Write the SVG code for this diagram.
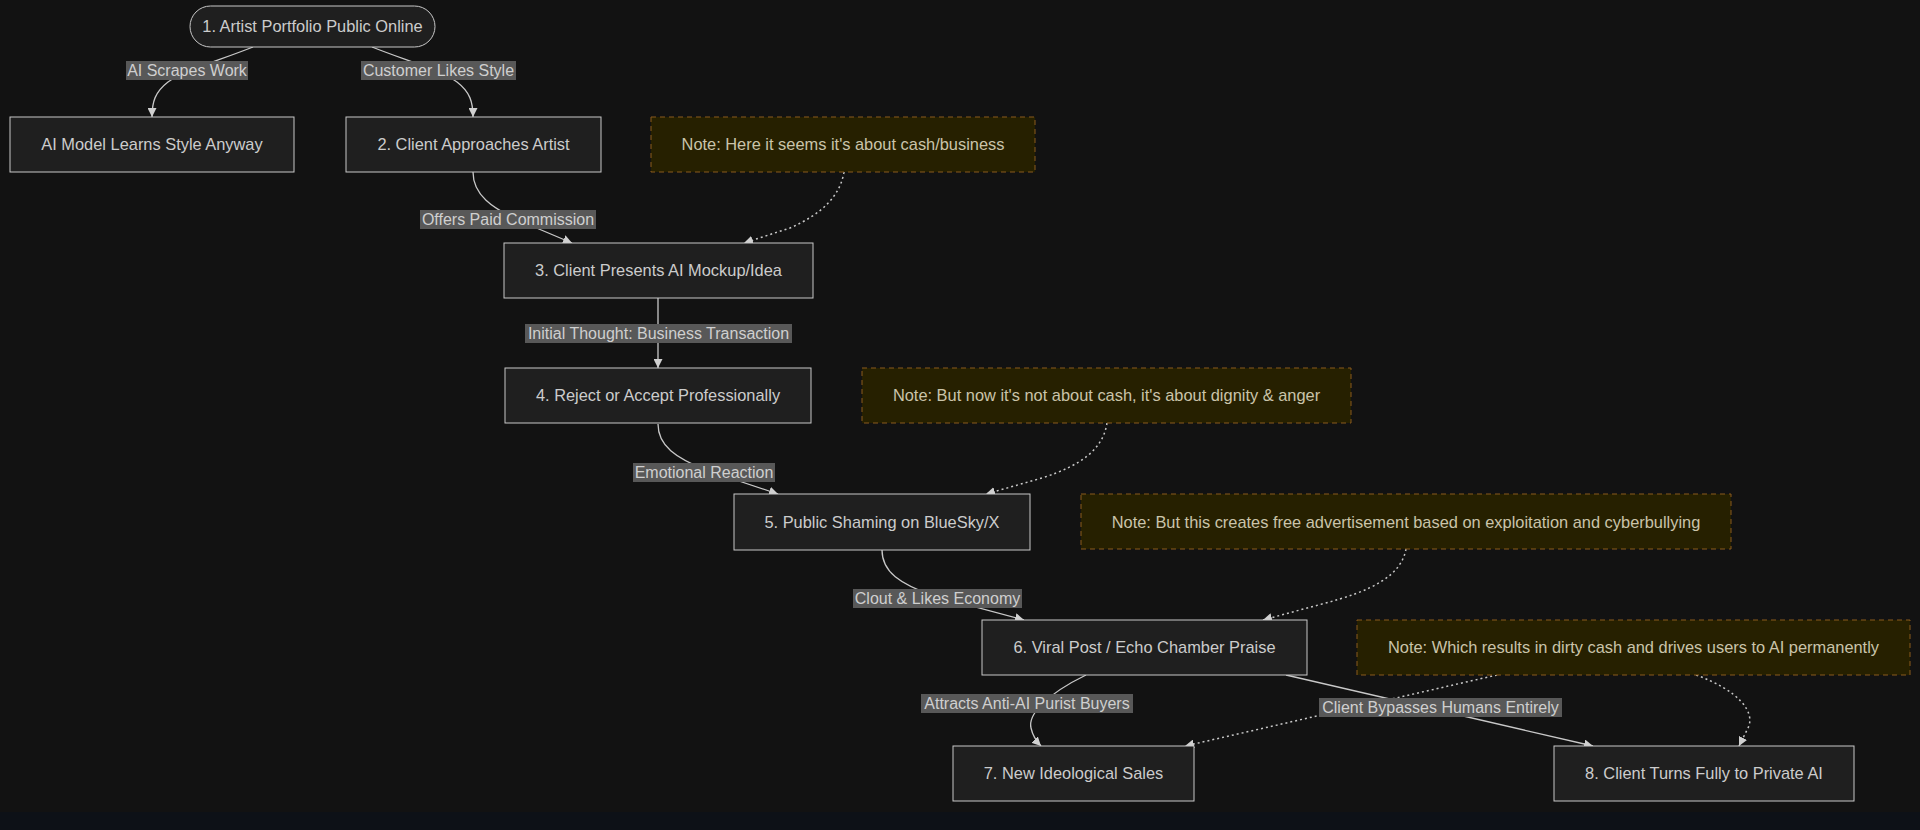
<svg xmlns="http://www.w3.org/2000/svg" width="1920" height="830" viewBox="0 0 1920 830">
<defs>
<marker id="arr" viewBox="0 0 10 10" refX="10" refY="5" markerWidth="9" markerHeight="9" markerUnits="userSpaceOnUse" orient="auto">
<path d="M0,0 L10,5 L0,10 z" fill="#d0d0d0"/>
</marker>
<style>
text{font-family:"Liberation Sans",Arial,sans-serif;font-size:16.4px;text-anchor:middle}
.node rect{fill:#1f1f1f;stroke:#c8c8c8;stroke-width:1}
.node text{fill:#cccccc}
.note rect{fill:#262000;stroke:#8a5a1c;stroke-width:1;stroke-dasharray:5 4}
.note text{fill:#cac4aa}
.edge{fill:none;stroke:#c8c8c8;stroke-width:1.3;marker-end:url(#arr)}
.dot{fill:none;stroke:#c8c8c8;stroke-width:1.5;stroke-dasharray:2 3;marker-end:url(#arr)}
.lbl rect{fill:#585858}
.lbl text{fill:#cfcfcf;font-size:16px}
</style>
</defs>
<rect x="0" y="0" width="1920" height="830" fill="#121212"/>
<rect x="0" y="812" width="1920" height="18" fill="#0d1117"/>

<g id="connectors">
<path class="edge" d="M253,47 C215,62 185,70 168,82 C155,92 152,102 152,117"/>
<path class="edge" d="M372,47 C410,62 440,70 457,82 C470,92 473,102 473,117"/>
<path class="edge" d="M473,172 C473,195 492,208 520,221 L572,243"/>
<path class="edge" d="M658,298 L658,368"/>
<path class="edge" d="M658,424 C658,446 676,458 706,470 L778,494"/>
<path class="edge" d="M882,550 C882,572 900,584 934,596 L1024,620"/>
<path class="edge" d="M1086,675 C1045,695 1028,715 1031,728 C1033,737 1037,742 1041,746"/>
<path class="edge" d="M1286,675 L1593,746"/>
<path class="dot" d="M844,172 C840,196 822,214 790,228 L744,243"/>
<path class="dot" d="M1107,423 C1103,449 1082,465 1042,478 L986,494"/>
<path class="dot" d="M1406,549 C1401,576 1372,591 1322,604 L1263,620"/>
<path class="dot" d="M1497,675 L1185,746"/>
<path class="dot" d="M1696,675 C1738,690 1756,712 1748,728 L1739,746"/>
<g id="edge-labels">
<g class="lbl"><rect x="126" y="61" width="122" height="19"/><text x="187" y="76">AI Scrapes Work</text></g>
<g class="lbl"><rect x="361" y="61" width="155" height="19"/><text x="438.5" y="76">Customer Likes Style</text></g>
<g class="lbl"><rect x="420" y="210" width="176" height="19"/><text x="508" y="225">Offers Paid Commission</text></g>
<g class="lbl"><rect x="525" y="324" width="267" height="19"/><text x="658.5" y="339">Initial Thought: Business Transaction</text></g>
<g class="lbl"><rect x="633" y="463" width="142" height="19"/><text x="704" y="478">Emotional Reaction</text></g>
<g class="lbl"><rect x="853" y="589" width="169" height="19"/><text x="937.5" y="604">Clout &amp; Likes Economy</text></g>
<g class="lbl"><rect x="921" y="694" width="212" height="19"/><text x="1027" y="709">Attracts Anti-AI Purist Buyers</text></g>
<g class="lbl"><rect x="1319" y="698" width="243" height="19"/><text x="1440.5" y="713">Client Bypasses Humans Entirely</text></g>
</g>
</g>

<g id="n1" class="node"><rect x="190" y="6" width="245" height="41" rx="20.5"/><text x="312.5" y="32">1. Artist Portfolio Public Online</text></g>
<g id="nai" class="node"><rect x="10" y="117" width="284" height="55"/><text x="152" y="150">AI Model Learns Style Anyway</text></g>
<g id="n2" class="node"><rect x="346" y="117" width="255" height="55"/><text x="473.5" y="150">2. Client Approaches Artist</text></g>
<g id="note1" class="note"><rect x="651" y="117" width="384" height="55"/><text x="843" y="150">Note: Here it seems it's about cash/business</text></g>
<g id="n3" class="node"><rect x="504" y="243" width="309" height="55"/><text x="658.5" y="276">3. Client Presents AI Mockup/Idea</text></g>
<g id="n4" class="node"><rect x="505" y="368" width="306" height="55"/><text x="658" y="401">4. Reject or Accept Professionally</text></g>
<g id="note2" class="note"><rect x="862" y="368" width="489" height="55"/><text x="1106.5" y="401">Note: But now it's not about cash, it's about dignity &amp; anger</text></g>
<g id="n5" class="node"><rect x="734" y="494" width="296" height="56"/><text x="882" y="527.5">5. Public Shaming on BlueSky/X</text></g>
<g id="note3" class="note"><rect x="1081" y="494" width="650" height="55"/><text x="1406" y="527.5">Note: But this creates free advertisement based on exploitation and cyberbullying</text></g>
<g id="n6" class="node"><rect x="982" y="620" width="325" height="55"/><text x="1144.5" y="653">6. Viral Post / Echo Chamber Praise</text></g>
<g id="note4" class="note"><rect x="1357" y="620" width="553" height="55"/><text x="1633.5" y="653">Note: Which results in dirty cash and drives users to AI permanently</text></g>
<g id="n7" class="node"><rect x="953" y="746" width="241" height="55"/><text x="1073.5" y="779">7. New Ideological Sales</text></g>
<g id="n8" class="node"><rect x="1554" y="746" width="300" height="55"/><text x="1704" y="779">8. Client Turns Fully to Private AI</text></g>
</svg>
